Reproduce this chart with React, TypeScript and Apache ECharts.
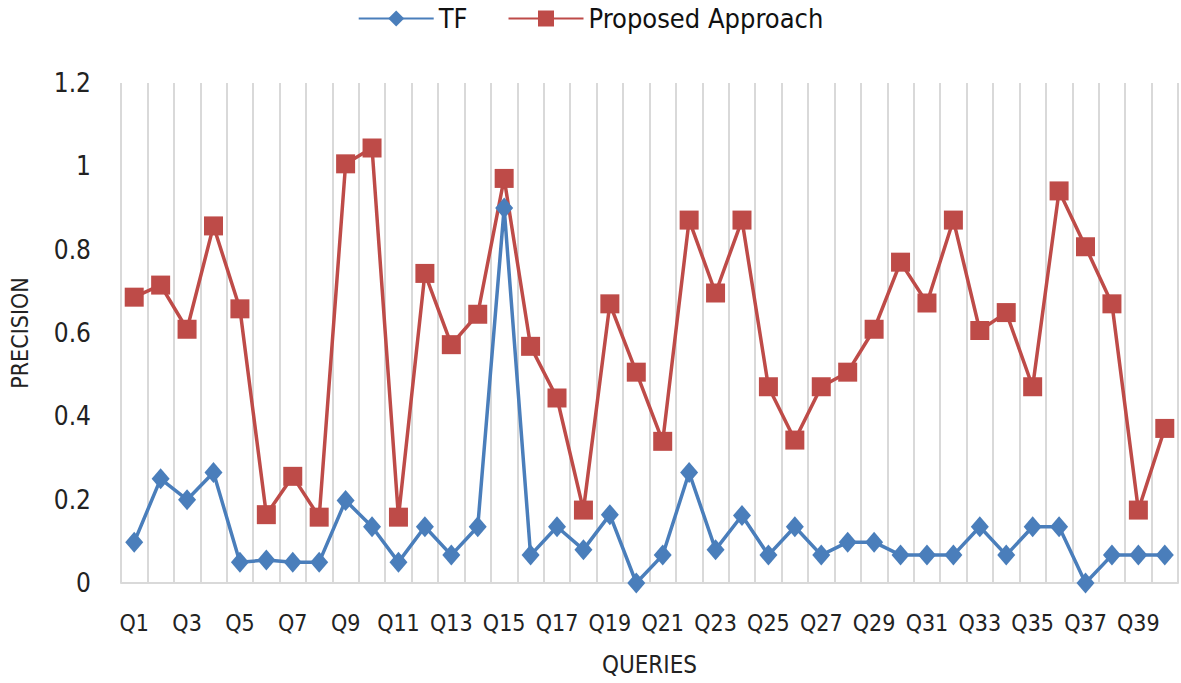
import React, { useEffect, useRef } from "react";
import * as echarts from "echarts";

const categories: string[] = Array.from({ length: 40 }, (_, i) => `Q${i + 1}`);

const tfValues: number[] = [
  0.098, 0.25, 0.2, 0.265, 0.05, 0.055, 0.05, 0.05, 0.198, 0.135,
  0.05, 0.135, 0.067, 0.135, 0.9, 0.067, 0.135, 0.08, 0.164, 0,
  0.067, 0.265, 0.08, 0.162, 0.067, 0.135, 0.067, 0.098, 0.098, 0.067,
  0.067, 0.067, 0.135, 0.067, 0.135, 0.135, 0, 0.067, 0.067, 0.067,
];

const proposedValues: number[] = [
  0.686, 0.715, 0.609, 0.857, 0.658, 0.164, 0.256, 0.158, 1.006, 1.044,
  0.158, 0.743, 0.572, 0.645, 0.971, 0.568, 0.444, 0.175, 0.67, 0.506,
  0.34, 0.871, 0.696, 0.871, 0.471, 0.343, 0.471, 0.506, 0.609, 0.77,
  0.672, 0.871, 0.606, 0.649, 0.471, 0.941, 0.807, 0.67, 0.175, 0.371,
];

const seriesNames = ["TF", "Proposed Approach"];
const FONT = "'DejaVu Sans Condensed', 'Liberation Sans Narrow', 'Liberation Sans', sans-serif";

export default function App() {
  const ref = useRef<HTMLDivElement>(null);
  useEffect(() => {
    if (!ref.current) return;
    const chart = echarts.init(ref.current, undefined, { renderer: "svg" });
    chart.setOption({
      animation: false,
      backgroundColor: "#ffffff",
      textStyle: { fontFamily: FONT },
      legend: {
        top: 0,
        left: "center",
        itemWidth: 75,
        itemHeight: 20,
        itemGap: 40,
        textStyle: { fontSize: 27, color: "#111", fontFamily: FONT },
        data: seriesNames,
      },
      grid: { left: 115, right: 3, top: 83, bottom: 100, containLabel: false },
      xAxis: {
        type: "category",
        data: categories,
        boundaryGap: true,
        name: "QUERIES",
        nameLocation: "middle",
        nameGap: 70,
        nameTextStyle: { fontSize: 24, color: "#222", fontFamily: FONT },
        axisLine: { show: true, lineStyle: { color: "#D9D9D9", width: 2 } },
        axisTick: { show: false, interval: 0 },
        axisLabel: { interval: 1, margin: 28, fontSize: 23, color: "#222", fontFamily: FONT },
        splitLine: { show: true, interval: 0, lineStyle: { color: "#D9D9D9", width: 2 } },
      },
      yAxis: {
        type: "value",
        min: 0,
        max: 1.2,
        interval: 0.2,
        name: "PRECISION",
        nameLocation: "middle",
        nameGap: 90,
        nameRotate: 90,
        nameTextStyle: { fontSize: 23, color: "#222", fontFamily: FONT },
        axisLine: { show: false },
        axisTick: { show: false },
        axisLabel: { margin: 30, fontSize: 26, color: "#222", fontFamily: FONT },
        splitLine: { show: false },
      },
      series: [
        {
          name: seriesNames[0],
          type: "line",
          data: tfValues,
          symbol: "diamond",
          symbolSize: [18, 21],
          showAllSymbol: true,
          itemStyle: { color: "#4A7EBB" },
          lineStyle: { color: "#4A7EBB", width: 3.5 },
        },
        {
          name: seriesNames[1],
          type: "line",
          data: proposedValues,
          symbol: "rect",
          symbolSize: 19,
          showAllSymbol: true,
          itemStyle: { color: "#BE4B48" },
          lineStyle: { color: "#BE4B48", width: 3.5 },
        },
      ],
    });
    return () => chart.dispose();
  }, []);
  return (
    <div
      ref={ref}
      style={{ position: "fixed", left: 0, top: 0, width: 1181, height: 683 }}
    />
  );
}
